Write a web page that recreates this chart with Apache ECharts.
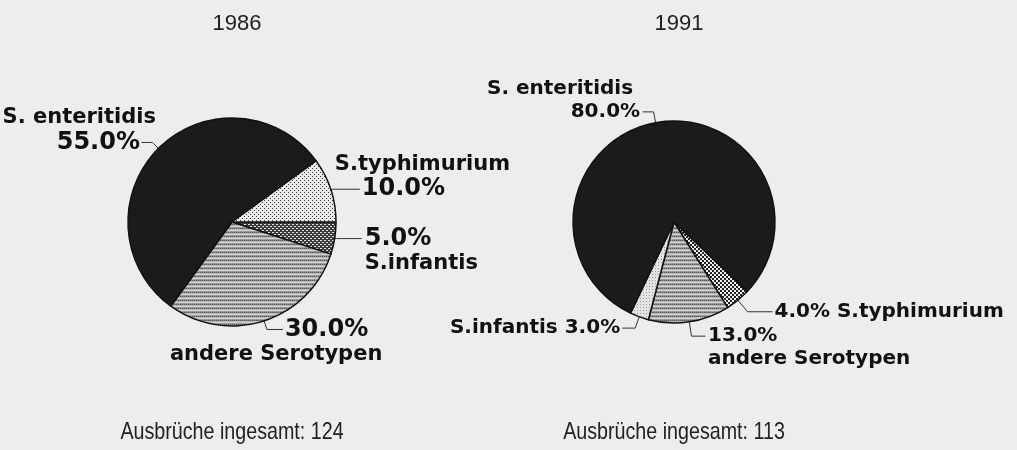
<!DOCTYPE html>
<html>
<head>
<meta charset="utf-8">
<title>Salmonella-Serotypen 1986 / 1991</title>
<script src="https://cdn.jsdelivr.net/npm/echarts@6/dist/echarts.min.js"></script>
<style>
  html, body { margin: 0; padding: 0; background: #ededed; }
  #chart { width: 1017px; height: 450px; }
</style>
</head>
<body>
<div id="chart"></div>
<script>
const years = ['1986', '1991']
const totals = [124, 113]
const names1986 = ['S.infantis', 'andere Serotypen', 'S. enteritidis', 'S.typhimurium']
const values1986 = [5, 30, 55, 10]
const names1991 = ['S.typhimurium', 'andere Serotypen', 'S.infantis', 'S. enteritidis']
const values1991 = [4, 13, 3, 80]

const LABEL_FONT = 'DejaVu Sans'
const TEXT_FONT = 'Liberation Sans'

// small canvas tiles to imitate the hatchings of the printed chart
function pattern(size, draw) {
  const c = document.createElement('canvas')
  c.width = size
  c.height = size
  draw(c.getContext('2d'))
  return { image: c, repeat: 'repeat' }
}
const dark = '#1b1b1b'
const lightDots = pattern(4, (ctx) => {
  ctx.fillStyle = '#e9e9e9'
  ctx.fillRect(0, 0, 4, 4)
  ctx.fillStyle = '#3a3a3a'
  ctx.fillRect(0, 0, 1, 1)
  ctx.fillRect(2, 2, 1, 1)
})
const darkDots = pattern(4, (ctx) => {
  ctx.fillStyle = '#3a3a3a'
  ctx.fillRect(0, 0, 4, 4)
  ctx.fillStyle = '#e6e6e6'
  ctx.fillRect(0, 0, 2, 1)
  ctx.fillRect(2, 2, 2, 1)
})
const checker = pattern(4, (ctx) => {
  ctx.fillStyle = '#222'
  ctx.fillRect(0, 0, 4, 4)
  ctx.fillStyle = '#eee'
  ctx.fillRect(0, 0, 2, 2)
  ctx.fillRect(2, 2, 2, 2)
})
const stripes = pattern(4, (ctx) => {
  const rows = ['#575757', '#b8b8b8', '#d2d2d2', '#9a9a9a']
  rows.forEach((col, i) => {
    ctx.fillStyle = col
    ctx.fillRect(0, i, 4, 1)
  })
  ctx.fillStyle = '#8a8a8a'
  ctx.fillRect(1, 0, 1, 1)
  ctx.fillRect(3, 0, 1, 1)
})
const stipple = pattern(3, (ctx) => {
  ctx.fillStyle = '#e3e3e3'
  ctx.fillRect(0, 0, 3, 3)
  ctx.fillStyle = '#9a9a9a'
  ctx.fillRect(1, 1, 1, 1)
})

const fills1986 = [darkDots, stripes, dark, lightDots]
const fills1991 = [checker, stripes, stipple, dark]

// where each label sits relative to its leader line
const labels1986 = [
  { kind: 'pctFirst', len: 2, len2: 25, dist: 3 },
  { kind: 'pctFirst', len: 9, len2: 16, dist: -113, pctPad: [0, 0, 0, 115] },
  { kind: 'nameFirst', len: 8.5, len2: 11, dist: -14.5, pctPad: [0, 16, 0, 0] },
  { kind: 'nameFirst', len: 2, len2: 27, dist: -25, pctPad: [0, 0, 0, 27] }
]
const labels1991 = [
  { kind: 'pctInline', len: 15, len2: 25, dist: 2 },
  { kind: 'pctFirst', len: 14.5, len2: 14, dist: 2.5 },
  { kind: 'nameInline', len: 12, len2: 13, dist: 2 },
  { kind: 'nameFirst', len: 11, len2: 11, dist: 2.5, namePad: [0, 7, 0, 0] }
]

function labelText(kind, name, value) {
  const pct = value.toFixed(1) + '%'
  if (kind === 'pctFirst') return '{e| }\n{p|' + pct + '}\n{n|' + name + '}'
  if (kind === 'nameFirst') return '{n|' + name + '}\n{p|' + pct + '}\n{e| }'
  if (kind === 'pctInline') return '{p|' + pct + '}{n| ' + name + '}'
  return '{n|' + name + ' }{p|' + pct + '}'
}

function buildData(names, values, specs, fills, sizes) {
  return names.map((name, i) => {
    const s = specs[i]
    return {
      name: name,
      value: values[i],
      itemStyle: { color: fills[i] },
      label: {
        formatter: labelText(s.kind, name, values[i]),
        distanceToLabelLine: s.dist,
        rich: {
          n: { fontFamily: LABEL_FONT, fontWeight: 'bold', fontSize: sizes.name, lineHeight: sizes.lh, color: '#111', padding: s.namePad || 0 },
          p: { fontFamily: LABEL_FONT, fontWeight: 'bold', fontSize: sizes.pct, lineHeight: sizes.lh, color: '#111', padding: s.pctPad || 0 },
          e: { fontSize: sizes.name, lineHeight: sizes.lh }
        }
      },
      labelLine: { length: s.len, length2: s.len2 }
    }
  })
}

function pieSeries(center, radius, startAngle, data) {
  return {
    type: 'pie',
    center: center,
    radius: radius,
    startAngle: startAngle,
    clockwise: true,
    avoidLabelOverlap: false,
    minShowLabelAngle: 0,
    labelLayout: { hideOverlap: false, moveOverlap: null },
    silent: true,
    animation: false,
    itemStyle: { borderColor: '#111', borderWidth: 1.5 },
    label: {
      show: true,
      position: 'outside',
      fontFamily: LABEL_FONT,
      fontWeight: 'bold',
      fontSize: 20,
      color: '#111'
    },
    labelLine: {
      show: true,
      smooth: false,
      lineStyle: { color: '#333', width: 1 }
    },
    data: data
  }
}

const centers = [[232, 222], [674, 222]]

const chart = echarts.init(document.getElementById('chart'), null, { renderer: 'canvas' })
chart.setOption({
  backgroundColor: '#ededed',
  animation: false,
  title: years.map((y, i) => ({
    text: y,
    left: centers[i][0],
    top: 8,
    textAlign: 'center',
    textStyle: { fontFamily: TEXT_FONT, fontWeight: 'normal', fontSize: 22, color: '#222' }
  })),
  graphic: totals.map((t, i) => ({
    type: 'text',
    x: centers[i][0],
    y: 432,
    scaleX: 0.82,
    silent: true,
    style: {
      text: 'Ausbrüche ingesamt: ' + t,
      font: '24px "' + TEXT_FONT + '"',
      fill: '#222',
      align: 'center',
      verticalAlign: 'middle'
    }
  })),
  series: [
    pieSeries(centers[0], 104, 0, buildData(names1986, values1986, labels1986, fills1986, { name: 21, pct: 24, lh: 25 })),
    pieSeries(centers[1], 101, -43.5, buildData(names1991, values1991, labels1991, fills1991, { name: 20, pct: 20, lh: 23 }))
  ]
})
</script>
</body>
</html>
